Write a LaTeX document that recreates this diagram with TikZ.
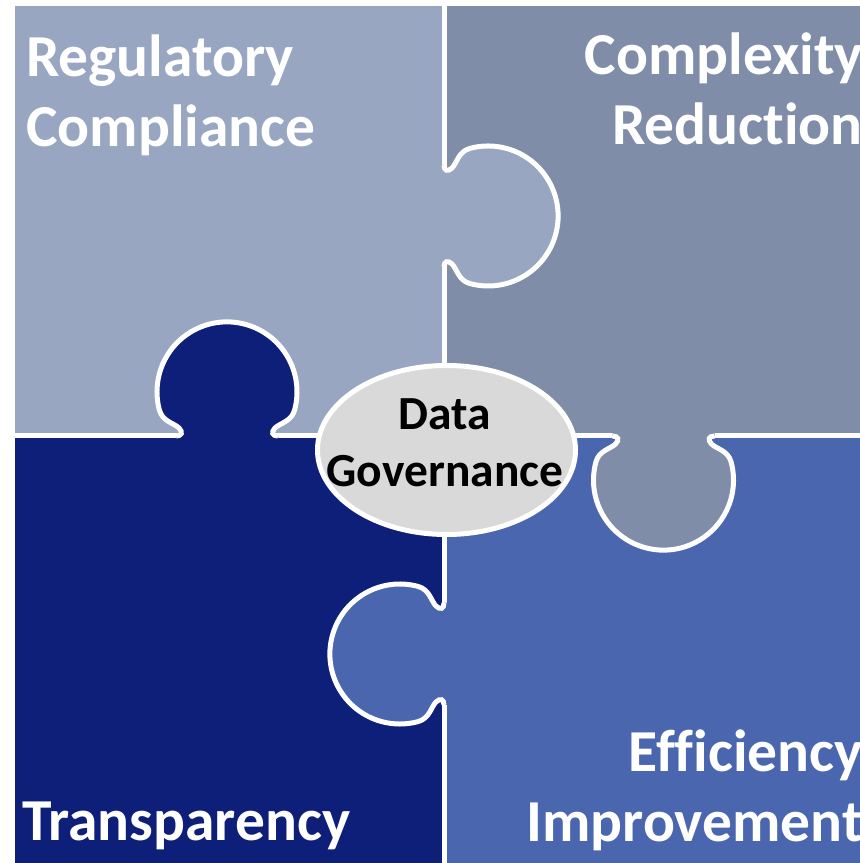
\documentclass[tikz,border=0pt]{standalone}
\usepackage{fontspec}
\setmainfont{Carlito}[Ligatures=NoCommon]
\usetikzlibrary{shapes.geometric}
\definecolor{pieceTL}{HTML}{98A6C1}
\definecolor{pieceTR}{HTML}{7F8DA8}
\definecolor{pieceBL}{HTML}{0E1F7A}
\definecolor{pieceBR}{HTML}{4A66AE}
\definecolor{ellgray}{HTML}{D9D9D9}
\tikzset{
  seamline/.style={draw=white, line width=5pt},
  biglabel/.style={text=white, font=\bfseries\fontsize{59.5}{70}\selectfont, inner sep=0pt},
}
\newcommand{\knobpath}{(0,-51) .. controls (0,-45) and (4,-44) .. (8,-48) .. controls (13,-53) and (14.4,-64.5) .. (26,-67.6) arc[start angle=-105, end angle=105, radius=70] .. controls (14.4,64.5) and (13,53) .. (8,48) .. controls (4,44) and (0,45) .. (0,51)}
\newcommand{\puzknob}[4]{%
  \begin{scope}[shift={(#1,#2)}, rotate=#3]
    \fill[#4] (-3.2,-51) -- \knobpath -- (-3.2,51) -- cycle;
    \draw[seamline] \knobpath;
  \end{scope}}
\begin{document}
\begin{tikzpicture}[x=1pt, y=1pt]
  \useasboundingbox (0,0) rectangle (860,863);
  \fill[white] (0,0) rectangle (860,863);
  \begin{scope}
    \clip (0,0) rectangle (860,863);
    \fill[pieceTL] (15,427) rectangle (444,857);
    \fill[pieceTR] (444,427) rectangle (870,857);
    \fill[pieceBL] (15,-10) rectangle (444,427);
    \fill[pieceBR] (444,-10) rectangle (870,427);
    \draw[seamline] (444,860) -- (444,-10);
    \draw[seamline] (15,427) -- (870,427);
    \puzknob{444}{647}{0}{pieceTL}
    \puzknob{227}{427}{90}{pieceBL}
    \puzknob{663.5}{427}{-90}{pieceTR}
    \puzknob{444}{209}{180}{pieceBR}
    \node[ellipse, fill=ellgray, draw=white, line width=5pt, minimum width=258pt, minimum height=169pt, inner sep=0pt] (dg) at (446.5,413) {};
    \node[font=\bfseries\fontsize{47.5}{57}\selectfont, align=center, inner sep=0pt] (dgtext) at (445,420) {Data\\Governance};
    \node[biglabel, anchor=base west, align=left] (reg) at (26,716) {Regulatory\\Compliance};
    \node[biglabel, anchor=base east, align=right] (cplx) at (863,718) {Complexity\\Reduction};
    \node[biglabel, anchor=base east, align=right] (eff) at (863,21) {Efficiency\\Improvement};
    \node[biglabel, anchor=base west] (trans) at (22,23) {Transparency};
  \end{scope}
\end{tikzpicture}
\end{document}
